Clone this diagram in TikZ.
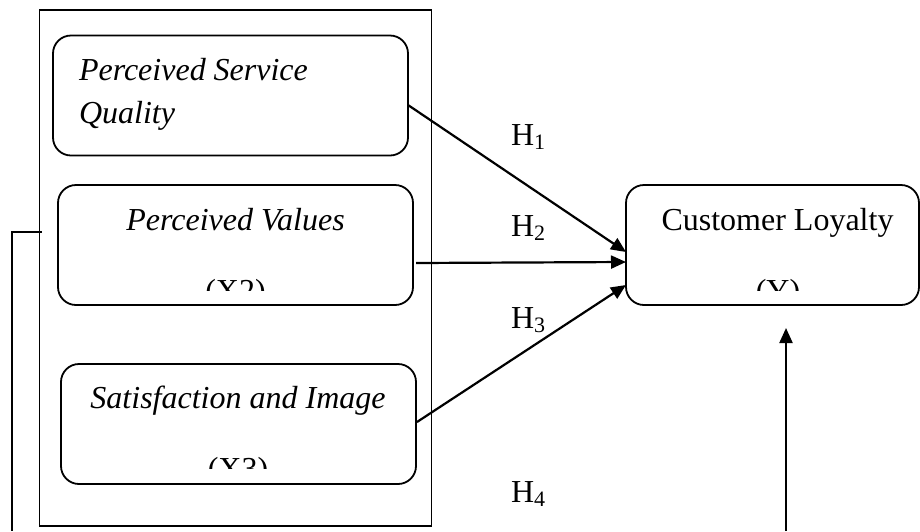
\documentclass[tikz,border=0pt]{standalone}
\usepackage{fontspec}
\setmainfont{Liberation Serif}
\usetikzlibrary{arrows.meta,calc}
% hypothesis label with a lowered index
\newcommand{\hyp}[1]{H\raisebox{-4pt}{\fontsize{22}{22}\selectfont #1}}
\begin{document}
\begin{tikzpicture}[x=1pt,y=-1pt,
  box/.style={draw,line width=1.8pt,rounded corners=18pt,inner sep=0pt,outer sep=0pt,
              minimum width=355pt,minimum height=120pt},
  frame/.style={draw,line width=1.6pt,inner sep=0pt,outer sep=0pt,
              minimum width=392pt,minimum height=516pt},
  txt/.style={inner sep=0pt,outer sep=0pt,font=\fontsize{32}{38}\selectfont},
  itx/.style={txt,font=\fontsize{32}{38}\selectfont\itshape},
  arr/.style={line width=2.2pt,-{Triangle[length=15pt,width=13pt]}},
  link/.style={line width=2pt},
]
\useasboundingbox (0,0) rectangle (920,531);

% outer frame and the three predictor boxes
\node[frame] (outer) at (235.5,268) {};
\node[box] (psq) at (230.5,95.5) {};
\node[box] (pv)  at (235.5,245) {};
\node[box] (si)  at (238.5,424) {};
% dependent variable box
\node[box,minimum width=293pt] (cl) at (772.5,245) {};

% box texts
\node[itx,anchor=base west] (psqa) at (79,80)  {Perceived Service};
\node[itx,anchor=base west] (psqb) at (79,123) {Quality};
\node[itx,anchor=base] (pva) at (235.5,230) {Perceived Values};
\node[itx,anchor=base] (sia) at (238,408) {Satisfaction and Image};
\node[txt,anchor=base] (cla) at (777.5,230) {Customer Loyalty};

% variable codes, cut off at the lower edge of their text area
\begin{scope}
  \clip (0,0) rectangle (920,290);
  \node[txt,anchor=base] (pvb) at (235.5,301) {(X2)};
  \node[txt,anchor=base] (clb) at (778,301) {(Y)};
\end{scope}
\begin{scope}
  \clip (0,0) rectangle (920,468);
  \node[txt,anchor=base] (sib) at (238,479) {(X3)};
\end{scope}

% hypothesis labels
\node[txt,anchor=base west] (h1) at (511,145) {\hyp{1}};
\node[txt,anchor=base west] (h2) at (511,236) {\hyp{2}};
\node[txt,anchor=base west] (h3) at (511,328) {\hyp{3}};
\node[txt,anchor=base west] (h4) at (511,502) {\hyp{4}};

% hypothesis arrows
\draw[arr] ([yshift=-9.5pt]psq.east) -- ([yshift=-7pt]cl.west);
\draw[arr] ([xshift=3pt,yshift=-18pt]pv.east) -- ([yshift=-17pt]cl.west);
\draw[arr] ([xshift=1pt,yshift=2pt]si.east) -- ([yshift=-40pt]cl.west);

% simultaneous path (H4)
\coordinate (botv) at (786,531);
\coordinate (botl) at (12,531);
\draw[arr] (botv) -- ($(botv |- cl.south)+(0,23)$);
\draw[link] ([xshift=2pt,yshift=36pt]outer.west) -| (botl);
\end{tikzpicture}
\end{document}
